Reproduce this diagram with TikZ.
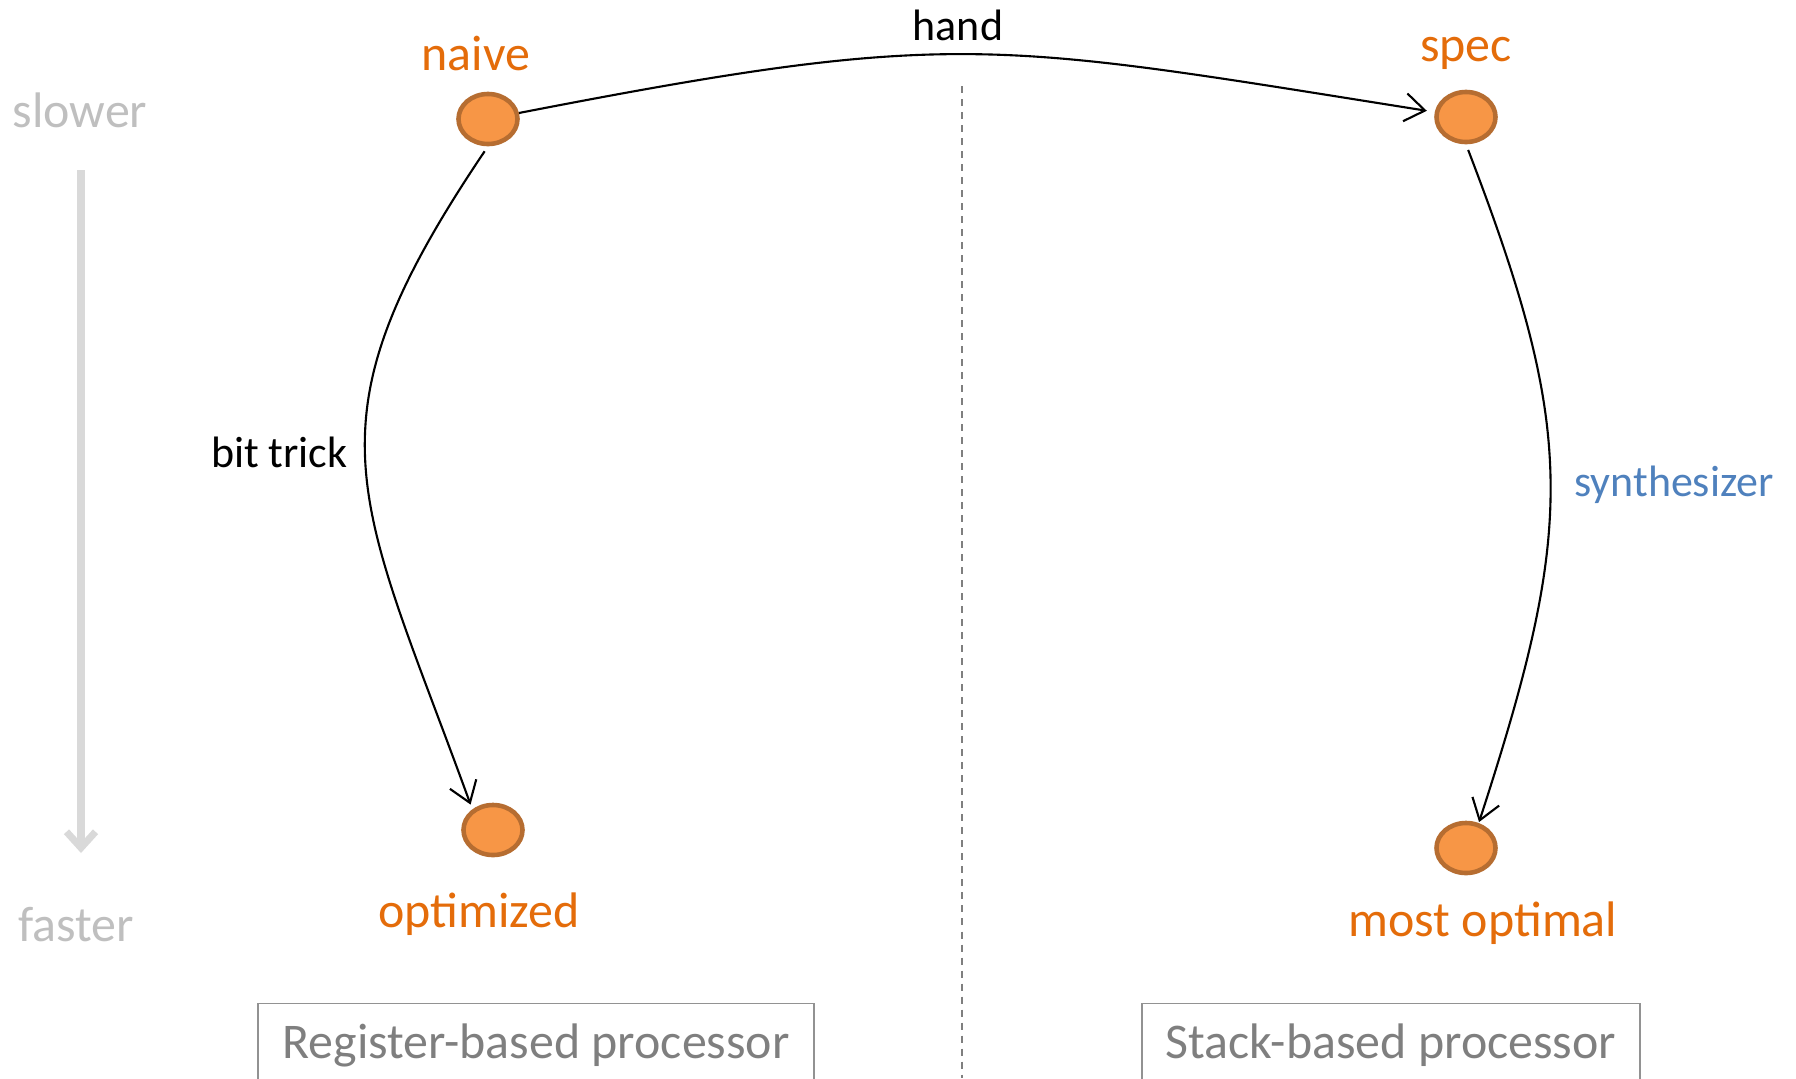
\documentclass[tikz,border=0pt]{standalone}
\usepackage{fontspec}
\setmainfont{Carlito}
\usetikzlibrary{positioning,shapes.geometric,arrows.meta}
\definecolor{nodefill}{HTML}{F79646}
\definecolor{nodeline}{HTML}{B66D31}
\definecolor{lblorange}{HTML}{E46C0A}
\definecolor{synthblue}{HTML}{4F81BD}
\definecolor{speedgray}{HTML}{BFBFBF}
\definecolor{speedline}{HTML}{D9D9D9}
\definecolor{boxgray}{HTML}{7F7F7F}

\begin{document}
\begin{tikzpicture}[x=0.01cm,y=-0.01cm,->,>={Straight Barb[length=2mm,width=2.8mm]},semithick,
  every node/.style={font=\fontsize{14.2}{17}\selectfont},
  impl node/.style={ellipse,draw=nodeline,fill=nodefill,line width=1.3pt,minimum width=5.9mm,minimum height=5mm,inner sep=0pt},
  name label/.style={text=lblorange,inner sep=0pt},
  edge label/.style={inner sep=0pt,font=\fontsize{12.5}{15}\selectfont},
  speed label/.style={text=speedgray,inner sep=0pt},
  proc box/.style={draw=boxgray!85,thin,text=boxgray,anchor=north,inner sep=0pt,text height=5.5mm,text depth=4.5mm}]
  \useasboundingbox (0,0) rectangle (1796,1078);

  % speed axis
  \node[speed label] (slower) at (80,110) {slower};
  \node[speed label] (faster) at (76,925) {faster};
  \coordinate (speedtop) at (81,170);
  \coordinate (speedbot) at (81,853);
  \draw[speedline,line width=2pt,-{Straight Barb[length=1.6mm,width=2.9mm]}] (speedtop) -- (speedbot);

  % divider
  \draw[-,boxgray,line width=0.5pt,dash pattern=on 0.7mm off 0.6mm] (962,86) -- (962,1078);

  \node[impl node] (naive) at (488,119) {};
  \node[impl node] (spec) at (1466,117) {};
  \node[impl node] (opt) at (493,830) {};
  \node[impl node] (best) at (1466,848) {};

  \node[name label] (naivelbl) [above=1.95mm of naive,xshift=-1.2mm] {naive};
  \node[name label] (speclbl) [above=1.9mm of spec] {spec};
  \node[name label] (optlbl) [below=3.45mm of opt,xshift=-1.4mm] {optimized};
  \node[name label] (bestlbl) [below=2.55mm of best,xshift=1.7mm] {most optimal};

  \node[proc box,minimum width=5.56cm] (regbox) at (536,1003) {Register-based processor};
  \node[proc box,minimum width=4.98cm] (stackbox) at (1391,1003) {Stack-based processor};

  \path[shorten >=0.8mm]
    (naive) edge[out=11,in=171,looseness=1.25] node[edge label,above=1.2mm,pos=0.475] {hand} (spec)
    (naive.south) edge[out=236,in=110,looseness=1.3,shorten <=0.6mm,shorten >=0.5mm] node[edge label,left=1.7mm,pos=0.48] {bit trick} (opt.135)
    (spec.south) edge[out=291,in=72,looseness=1.17,shorten <=0.6mm,shorten >=0.1mm] node[edge label,right=2.3mm,pos=0.505,text=synthblue] {synthesizer} (best.63)
  ;

\end{tikzpicture}
\end{document}
